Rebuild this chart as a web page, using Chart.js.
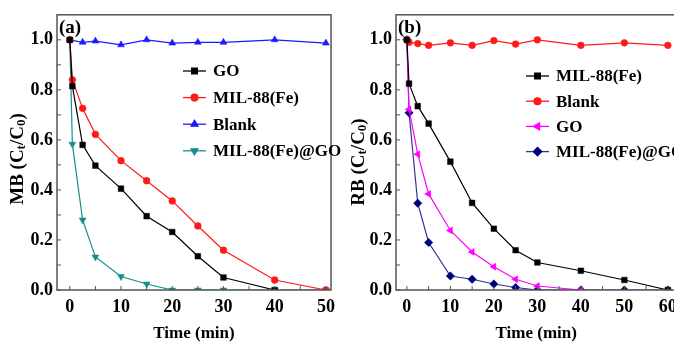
<!DOCTYPE html>
<html>
<head>
<meta charset="utf-8">
<script src="https://cdn.jsdelivr.net/npm/chart.js@4/dist/chart.umd.min.js"></script>
<style>
  html, body { margin: 0; padding: 0; background: #fff; overflow: hidden; width: 674px; height: 344px; }
  .box { position: absolute; top: 0; height: 344px; }
  #boxA { left: 0; width: 342px; }
  #boxB { left: 334px; width: 350px; }
</style>
</head>
<body>
<div class="box" id="boxA"><canvas id="chartA"></canvas></div>
<div class="box" id="boxB"><canvas id="chartB"></canvas></div>
<script>
// ---- panel (a): MB ----
const goA_t   = [0, 0.5, 2.5, 5, 10, 15, 20, 25, 30, 40];
const goA     = [1.0, 0.815, 0.58, 0.497, 0.405, 0.295, 0.232, 0.135, 0.05, 0.0];
const milA_t  = [0, 0.5, 2.5, 5, 10, 15, 20, 25, 30, 40, 50];
const milA    = [1.0, 0.84, 0.726, 0.622, 0.517, 0.437, 0.356, 0.256, 0.159, 0.04, 0.0];
const blankA_t = [0, 2.5, 5, 10, 15, 20, 25, 30, 40, 50];
const blankA  = [1.0, 0.99, 0.995, 0.98, 1.0, 0.987, 0.99, 0.99, 1.0, 0.987];
const compA_t = [0, 0.5, 2.5, 5, 10, 15, 20, 25, 30, 40, 50];
const compA   = [1.0, 0.583, 0.28, 0.132, 0.054, 0.024, 0.0, 0.0, 0.0, 0.0, 0.0];

// ---- panel (b): RB ----
const tB      = [0, 0.5, 2.5, 5, 10, 15, 20, 25, 30, 40, 50, 60];
const milB    = [1.0, 0.825, 0.735, 0.665, 0.513, 0.348, 0.245, 0.159, 0.11, 0.077, 0.04, 0.0];
const blankB  = [1.0, 0.99, 0.985, 0.978, 0.988, 0.978, 0.997, 0.983, 1.0, 0.978, 0.988, 0.978];
const goB_t   = [0, 0.5, 2.5, 5, 10, 15, 20, 25, 30, 40];
const goB     = [1.0, 0.722, 0.543, 0.384, 0.238, 0.152, 0.093, 0.043, 0.016, 0.0];
const compB   = [1.0, 0.708, 0.347, 0.19, 0.056, 0.043, 0.024, 0.01, 0.0, 0.0, 0.0, 0.0];

// ticks
const xTicksA = [0, 5, 10, 15, 20, 25, 30, 35, 40, 45, 50];
const xTicksB = [0, 5, 10, 15, 20, 25, 30, 35, 40, 45, 50, 55, 60];
const yTicks  = [0, 0.1, 0.2, 0.3, 0.4, 0.5, 0.6, 0.7, 0.8, 0.9, 1.0];

const FONT = '"Liberation Serif", "Times New Roman", serif';

function pts(xs, ys) { return xs.map((x, i) => ({ x: x, y: ys[i] })); }

function series(label, xs, ys, color, style, rot, r, lineColor) {
  return {
    label: label,
    data: pts(xs, ys),
    borderColor: lineColor || color,
    backgroundColor: color,
    pointBackgroundColor: color,
    pointBorderColor: color,
    borderWidth: 1.2,
    pointStyle: style,
    rotation: rot || 0,
    pointRadius: r,
    pointBorderWidth: 0.5,
    tension: 0
  };
}

// frame with inward ticks, panel tag, legend inside the plot, y title with subscripts
const framePlugin = {
  id: 'frame',
  afterDatasetsDraw(chart, args, o) {
    const { ctx, chartArea: a, scales: { x, y } } = chart;
    ctx.save();
    ctx.strokeStyle = '#555';
    ctx.lineWidth = 1.5;
    ctx.strokeRect(a.left, a.top, a.right - a.left, a.bottom - a.top);
    ctx.lineWidth = 1;
    ctx.beginPath();
    x.ticks.forEach(t => {
      const px = x.getPixelForValue(t.value);
      ctx.moveTo(px, a.bottom); ctx.lineTo(px, a.bottom - 4);
    });
    y.ticks.forEach(t => {
      const py = y.getPixelForValue(t.value);
      ctx.moveTo(a.left, py); ctx.lineTo(a.left + 4, py);
    });
    ctx.stroke();

    ctx.fillStyle = '#000';
    ctx.textBaseline = 'middle';
    ctx.textAlign = 'left';
    ctx.font = 'bold 19px ' + FONT;
    ctx.fillText(o.tag, a.left + 2, a.top + 13);

    // legend
    ctx.font = 'bold 17px ' + FONT;
    chart.data.datasets.forEach((ds, i) => {
      const ly = o.legY + i * o.legGap;
      ctx.strokeStyle = ds.borderColor;
      ctx.lineWidth = 1.3;
      ctx.beginPath();
      ctx.moveTo(o.legX, ly); ctx.lineTo(o.legX + 23, ly);
      ctx.stroke();
      ctx.fillStyle = ds.pointBackgroundColor;
      ctx.strokeStyle = ds.pointBorderColor;
      Chart.helpers.drawPoint(ctx, { pointStyle: ds.pointStyle, rotation: ds.rotation, radius: ds.pointRadius, borderWidth: 0.5 }, o.legX + 11.5, ly);
      ctx.fillStyle = '#000';
      ctx.fillText(ds.label, o.legX + 30, ly + 1);
    });

    // y title: "XX (Ct/C0)" rotated
    const parts = [[o.yName + ' (C', 19, 0], ['t', 13, 4], ['/C', 19, 0], ['0', 13, 4], [')', 19, 0]];
    ctx.translate(o.yTitleX, o.yTitleY);
    ctx.rotate(-Math.PI / 2);
    ctx.textBaseline = 'middle';
    let total = 0;
    parts.forEach(p => { ctx.font = 'bold ' + p[1] + 'px ' + FONT; total += ctx.measureText(p[0]).width; });
    let cx = -total / 2;
    parts.forEach(p => {
      ctx.font = 'bold ' + p[1] + 'px ' + FONT;
      ctx.fillText(p[0], cx, p[2]);
      cx += ctx.measureText(p[0]).width;
    });
    ctx.restore();
  }
};

function makeChart(id, datasets, xMax, xTicks, yWidth, padRight, frameOpts) {
  const tickFont = { family: FONT, size: 18, weight: 'bold' };
  const titleFont = { family: FONT, size: 17, weight: 'bold' };
  return new Chart(document.getElementById(id), {
    type: 'line',
    data: { datasets: datasets },
    options: {
      responsive: true,
      maintainAspectRatio: false,
      animation: false,
      layout: { padding: { top: 13, right: padRight, left: 0, bottom: 0 } },
      plugins: { legend: { display: false }, tooltip: { enabled: false }, frame: frameOpts },
      scales: {
        x: {
          type: 'linear',
          min: -2.5,
          max: xMax,
          afterBuildTicks: s => { s.ticks = xTicks.map(v => ({ value: v })); },
          afterFit: s => { s.height = 54; },
          ticks: {
            autoSkip: false, maxRotation: 0, padding: 7, color: '#000', font: tickFont,
            callback: v => (v % 10 === 0 ? String(v) : '')
          },
          grid: { display: false, drawTicks: false },
          border: { display: false },
          title: { display: true, text: 'Time (min)', color: '#000', font: titleFont, padding: { top: 0, bottom: 0 } }
        },
        y: {
          min: 0,
          max: 1.1,
          afterBuildTicks: s => { s.ticks = yTicks.map(v => ({ value: v })); },
          afterFit: s => { s.width = yWidth; },
          ticks: {
            autoSkip: false, padding: 4, color: '#000', font: tickFont,
            callback: v => (Math.round(v * 10) % 2 === 0 ? v.toFixed(1) : '')
          },
          grid: { display: false, drawTicks: false },
          border: { display: false }
        }
      }
    },
    plugins: [framePlugin]
  });
}

makeChart('chartA', [
  series('GO', goA_t, goA, '#000000', 'rect', 0, 4),
  series('MIL-88(Fe)', milA_t, milA, '#ff1a1a', 'circle', 0, 3.4),
  series('Blank', blankA_t, blankA, '#1a1aff', 'triangle', 0, 4),
  series('MIL-88(Fe)@GO', compA_t, compA, '#138f8f', 'triangle', 180, 4)
], 51, xTicksA, 57, 5, {
  tag: '(a)', legX: 183, legY: 71, legGap: 26.6, yName: 'MB', yTitleX: 18, yTitleY: 159
});

makeChart('chartB', [
  series('MIL-88(Fe)', tB, milB, '#000000', 'rect', 0, 4),
  series('Blank', tB, blankB, '#ff1a1a', 'circle', 0, 3.4),
  series('GO', goB_t, goB, '#ff00ff', 'triangle', 270, 4),
  series('MIL-88(Fe)@GO', tB, compB, '#00007a', 'rectRot', 0, 4.2, '#33338f')
], 62, xTicksB, 62, 4.5, {
  tag: '(b)', legX: 192, legY: 76, legGap: 25.2, yName: 'RB', yTitleX: 25, yTitleY: 162
});
</script>
</body>
</html>
